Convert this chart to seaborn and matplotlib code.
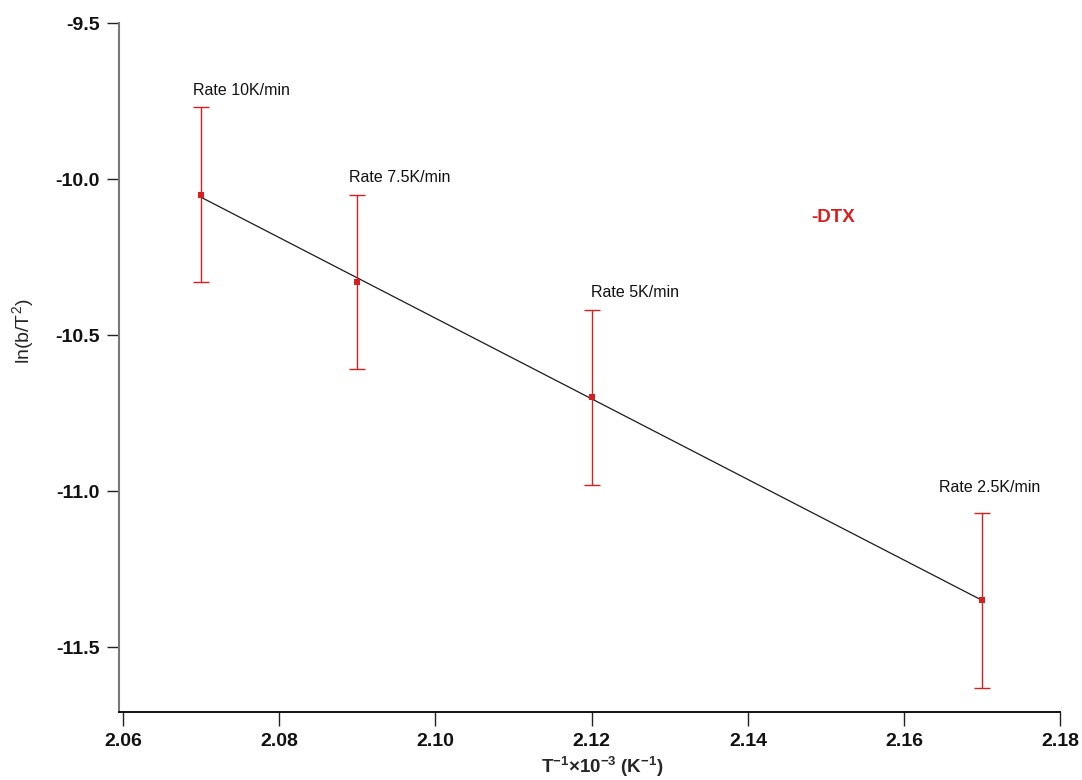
import numpy as np
import pandas as pd
import matplotlib
matplotlib.use("Agg")
import matplotlib.pyplot as plt
import seaborn as sns

# Kissinger-type data: inverse peak temperature vs ln(heating rate / T^2)
inv_T = [2.07, 2.09, 2.12, 2.17]
ln_b_T2 = [-10.05, -10.33, -10.70, -11.35]
err = [0.28, 0.28, 0.28, 0.28]
rate_labels = ["Rate 10K/min", "Rate 7.5K/min", "Rate 5K/min", "Rate 2.5K/min"]
label_x = [2.0690, 2.0890, 2.1199, 2.1645]
label_y = [-9.715, -9.994, -10.365, -10.987]
x_ticks = [2.06, 2.08, 2.10, 2.12, 2.14, 2.16, 2.18]
y_ticks = [-9.5, -10.0, -10.5, -11.0, -11.5]

df = pd.DataFrame({"x": inv_T, "y": ln_b_T2, "err": err})

sns.set_style("ticks")
plt.rcParams["font.family"] = ["Liberation Sans", "DejaVu Sans"]
plt.rcParams["mathtext.fontset"] = "custom"
plt.rcParams["mathtext.rm"] = "Liberation Sans"
plt.rcParams["mathtext.it"] = "Liberation Sans:italic"
plt.rcParams["mathtext.bf"] = "Liberation Sans:bold"
plt.rcParams["axes.unicode_minus"] = False

fig = plt.figure(figsize=(10.82, 7.8), dpi=100)
ax = fig.add_axes([0.110, 0.0872, 0.870, 0.8833])

red = "#d81f1f"

# linear fit through the points
sns.regplot(data=df, x="x", y="y", ax=ax, ci=None, scatter=False,
            truncate=True, line_kws={"color": "#1a1a1a", "lw": 0.9})

ax.errorbar(df["x"], df["y"], yerr=df["err"], fmt="none", ecolor=red,
            elinewidth=1.0, capsize=5.5, capthick=1.0, zorder=3)
sns.scatterplot(data=df, x="x", y="y", ax=ax, marker="s", s=20,
                color=red, edgecolor=red, linewidth=0, zorder=4)

for lx, ly, txt in zip(label_x, label_y, rate_labels):
    ax.text(lx, ly, txt, fontsize=11.5, color="#111111", ha="left", va="center")

ax.text(2.1481, -10.122, "-DTX", fontsize=13.5, fontweight="bold",
        color=red, ha="left", va="center")

ax.set_xlim(2.0595, 2.18)
ax.set_ylim(-11.708, -9.5)
ax.set_xticks(x_ticks)
ax.set_xticklabels([f"{v:.2f}" for v in x_ticks])
ax.set_yticks(y_ticks)
ax.set_yticklabels([f"{v:.1f}" for v in y_ticks])

for lab in ax.get_xticklabels() + ax.get_yticklabels():
    lab.set_fontweight("bold")
    lab.set_fontsize(14)
    lab.set_color("#111111")

ax.tick_params(axis="x", length=10, width=1.0, pad=5, color="#222222")
ax.tick_params(axis="y", length=9, width=1.0, pad=5, color="#222222")

sns.despine(ax=ax)
ax.spines["left"].set_color("#777777")
ax.spines["left"].set_linewidth(1.5)
ax.spines["bottom"].set_color("#111111")
ax.spines["bottom"].set_linewidth(1.4)

ax.set_xlabel(r"$\mathbf{T^{-1}{\times}10^{-3}\ (K^{-1})}$", fontsize=13.5)
ax.set_ylabel(r"ln(b/T$^{2}$)", fontsize=14)
ax.xaxis.set_label_coords(0.513, -0.063)
ax.yaxis.set_label_coords(-0.088, 0.553)

fig.savefig("out.png", dpi=100)
